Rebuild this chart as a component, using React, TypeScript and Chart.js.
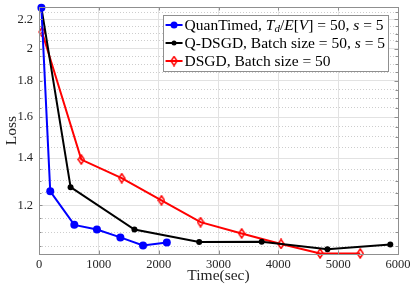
import React, { useEffect, useRef } from 'react';
import { Chart, registerables } from 'chart.js';

Chart.register(...registerables);

// ---------------- data ----------------
const seriesNames = [
  'QuanTimed, $T_d/E[V] = 50, s = 5$',
  'Q-DSGD, Batch size = 50, $s = 5$',
  'DSGD, Batch size = 50',
];
const seriesColors = ['#0000ff', '#000000', '#ff0000'];

const quanTimedTime = [40, 188, 590, 968, 1360, 1739, 2136];
const quanTimedLoss = [2.285, 1.256, 1.126, 1.109, 1.081, 1.053, 1.063];

const qdsgdTime = [40, 528, 1595, 2677, 3722, 4821, 5871];
const qdsgdLoss = [2.285, 1.273, 1.109, 1.065, 1.066, 1.04, 1.056];

const dsgdTime = [50, 707, 1382, 2047, 2700, 3387, 4045, 4698, 5369];
const dsgdLoss = [2.111, 1.393, 1.311, 1.22, 1.136, 1.095, 1.058, 1.026, 1.026];

const xTickValues = [0, 1000, 2000, 3000, 4000, 5000, 6000];
const xTickLabels = ['0', '1000', '2000', '3000', '4000', '5000', '6000'];
const yMajorValues = [1.2, 1.4, 1.6, 1.8, 2, 2.2];
const yTickLabels = ['1.2', '1.4', '1.6', '1.8', '2', '2.2'];
const yMinorValues = [
  1.05, 1.1, 1.15, 1.25, 1.3, 1.35, 1.45, 1.5, 1.55, 1.65, 1.7, 1.75, 1.85,
  1.9, 1.95, 2.05, 2.1, 2.15, 2.25,
];
const xRange = [0, 6000];
const yRange = [1.024, 2.29];

// ---------------- styling helpers ----------------
const FONT = '"Liberation Serif", "Times New Roman", serif';
const AXIS_COLOR = '#8f8f8f';
const TEXT_COLOR = '#262626';

function makeDiamond(color: string): HTMLCanvasElement {
  const c = document.createElement('canvas');
  c.width = 8;
  c.height = 11;
  const g = c.getContext('2d')!;
  g.strokeStyle = color;
  g.lineWidth = 1.5;
  g.beginPath();
  g.moveTo(4, 1);
  g.lineTo(7, 5.5);
  g.lineTo(4, 10);
  g.lineTo(1, 5.5);
  g.closePath();
  g.stroke();
  return c;
}

type Seg = { text: string; italic: boolean; sub: boolean };
function parseLabel(s: string): Seg[] {
  const segs: Seg[] = [];
  s.split('$').forEach((p, i) => {
    if (i % 2 === 0) {
      if (p) segs.push({ text: p, italic: false, sub: false });
      return;
    }
    for (let k = 0; k < p.length; k++) {
      const c = p[k];
      if (c === '_' && k + 1 < p.length) {
        const n = p[k + 1];
        segs.push({ text: n, italic: /[A-Za-z]/.test(n), sub: true });
        k++;
        continue;
      }
      segs.push({ text: c, italic: /[A-Za-z]/.test(c), sub: false });
    }
  });
  return segs;
}

const isMajor = (v: number) => yMajorValues.some((m) => Math.abs(m - v) < 1e-6);

export default function App() {
  const ref = useRef<HTMLCanvasElement | null>(null);

  useEffect(() => {
    if (!ref.current) return;
    const diamond = makeDiamond(seriesColors[2]);

    const toPts = (xs: number[], ys: number[]) => xs.map((x, i) => ({ x, y: ys[i] }));

    const legendSize = 15.5;
    const boxPlugin = {
      id: 'matlabBox',
      afterDraw(chart: any) {
        const ctx = chart.ctx as CanvasRenderingContext2D;
        const { left, right, top, bottom } = chart.chartArea;
        const xs = chart.scales.x;
        const ys = chart.scales.y;
        ctx.save();
        // box
        ctx.strokeStyle = AXIS_COLOR;
        ctx.lineWidth = 1;
        ctx.strokeRect(Math.round(left) + 0.5, Math.round(top) + 0.5, Math.round(right - left), Math.round(bottom - top));
        // ticks
        ctx.beginPath();
        xTickValues.forEach((v) => {
          const px = Math.round(xs.getPixelForValue(v)) + 0.5;
          ctx.moveTo(px, bottom);
          ctx.lineTo(px, bottom - 3.5);
          ctx.moveTo(px, top);
          ctx.lineTo(px, top + 3.5);
        });
        [...yMajorValues, ...yMinorValues].forEach((v) => {
          const py = Math.round(ys.getPixelForValue(v)) + 0.5;
          const len = isMajor(v) ? 3.5 : 2.5;
          ctx.moveTo(left, py);
          ctx.lineTo(left + len, py);
          ctx.moveTo(right, py);
          ctx.lineTo(right - len, py);
        });
        ctx.stroke();

        // legend
        const rows = seriesNames.map(parseLabel);
        const fontFor = (s: Seg) =>
          `${s.italic ? 'italic ' : ''}${s.sub ? Math.round(legendSize * 0.7) : legendSize}px ${FONT}`;
        const widths = rows.map((segs) =>
          segs.reduce((w, s) => {
            ctx.font = fontFor(s);
            return w + ctx.measureText(s.text).width;
          }, 0)
        );
        const maxW = Math.max(...widths);
        const boxRight = 388;
        const sampleW = 17;
        const boxLeft = boxRight - (3 + sampleW + 2 + maxW + 3);
        const boxTop = 15;
        const rowH = 18;
        const boxBottom = boxTop + rowH * rows.length + 2;
        ctx.fillStyle = '#ffffff';
        ctx.fillRect(Math.round(boxLeft) + 0.5, boxTop + 0.5, Math.round(boxRight - boxLeft), boxBottom - boxTop);
        ctx.strokeStyle = AXIS_COLOR;
        ctx.lineWidth = 1;
        ctx.strokeRect(Math.round(boxLeft) + 0.5, boxTop + 0.5, Math.round(boxRight - boxLeft), boxBottom - boxTop);

        rows.forEach((segs, i) => {
          const cy = boxTop + 10 + i * rowH;
          const sx = boxLeft + 3;
          ctx.strokeStyle = seriesColors[i];
          ctx.lineWidth = 2;
          ctx.beginPath();
          ctx.moveTo(sx, cy);
          ctx.lineTo(sx + sampleW, cy);
          ctx.stroke();
          const mx = sx + sampleW / 2;
          if (i === 2) {
            ctx.drawImage(diamond, mx - diamond.width / 2, cy - diamond.height / 2);
          } else {
            ctx.fillStyle = seriesColors[i];
            ctx.beginPath();
            ctx.arc(mx, cy, i === 0 ? 3.5 : 2.5, 0, Math.PI * 2);
            ctx.fill();
          }
          let tx = sx + sampleW + 2;
          ctx.fillStyle = '#000000';
          ctx.textBaseline = 'middle';
          ctx.textAlign = 'left';
          segs.forEach((s) => {
            ctx.font = fontFor(s);
            ctx.fillText(s.text, tx, cy + (s.sub ? 4 : 1));
            tx += ctx.measureText(s.text).width;
          });
        });
        ctx.restore();
      },
    };

    const chart = new Chart(ref.current, {
      type: 'line',
      data: {
        datasets: [
          {
            label: seriesNames[0].replace(/\$/g, ''),
            data: toPts(quanTimedTime, quanTimedLoss),
            borderColor: seriesColors[0],
            backgroundColor: seriesColors[0],
            borderWidth: 2,
            pointRadius: 4,
            pointStyle: 'circle',
            pointBorderWidth: 0,
            clip: false as any,
          },
          {
            label: seriesNames[1].replace(/\$/g, ''),
            data: toPts(qdsgdTime, qdsgdLoss),
            borderColor: seriesColors[1],
            backgroundColor: seriesColors[1],
            borderWidth: 2,
            pointRadius: 3,
            pointStyle: 'circle',
            pointBorderWidth: 0,
            clip: false as any,
          },
          {
            label: seriesNames[2],
            data: toPts(dsgdTime, dsgdLoss),
            borderColor: seriesColors[2],
            backgroundColor: 'rgba(0,0,0,0)',
            borderWidth: 2,
            pointRadius: 5,
            pointStyle: diamond as any,
            clip: false as any,
          },
        ],
      },
      options: {
        animation: false,
        responsive: true,
        maintainAspectRatio: false,
        layout: { padding: { top: 6, right: 13, left: 0, bottom: 0 } },
        plugins: { legend: { display: false }, tooltip: { enabled: false } },
        elements: { line: { tension: 0 } },
        scales: {
          x: {
            type: 'linear',
            min: xRange[0],
            max: xRange[1],
            afterBuildTicks: (s: any) => {
              s.ticks = xTickValues.map((v) => ({ value: v }));
            },
            ticks: {
              autoSkip: false,
              maxRotation: 0,
              padding: 3,
              color: TEXT_COLOR,
              font: { family: FONT, size: 12.5 },
              callback: (v: any) => {
                const i = xTickValues.indexOf(Number(v));
                return i >= 0 ? xTickLabels[i] : '';
              },
            },
            grid: { color: '#e2e2e2', drawTicks: false, lineWidth: 1 },
            border: { display: false },
            title: {
              display: true,
              text: 'Time(sec)',
              color: TEXT_COLOR,
              font: { family: FONT, size: 15.5 },
              padding: { top: 0, bottom: 0 },
            },
            afterFit: (s: any) => {
              s.height = 31;
              s.paddingLeft = 0;
              s.paddingRight = 0;
            },
          },
          y: {
            type: 'logarithmic',
            min: yRange[0],
            max: yRange[1],
            afterBuildTicks: (s: any) => {
              s.ticks = [...yMinorValues, ...yMajorValues]
                .sort((a, b) => a - b)
                .map((v) => ({ value: v, major: isMajor(v) }));
            },
            ticks: {
              autoSkip: false,
              padding: 6,
              color: TEXT_COLOR,
              font: { family: FONT, size: 12.5 },
              callback: (v: any) => {
                const i = yMajorValues.findIndex((m) => Math.abs(m - Number(v)) < 1e-6);
                return i >= 0 ? yTickLabels[i] : '';
              },
            },
            grid: {
              drawTicks: false,
              lineWidth: 1,
              color: (c: any) => (c.tick && isMajor(c.tick.value) ? '#e2e2e2' : '#cdcdcd'),
            },
            border: {
              display: false,
              dash: (c: any) => (c.tick && !isMajor(c.tick.value) ? [1, 2] : []),
            } as any,
            title: {
              display: true,
              text: 'Loss',
              color: TEXT_COLOR,
              font: { family: FONT, size: 15.5 },
              padding: { top: 3, bottom: 0 },
            },
            afterFit: (s: any) => {
              s.width = 39;
              s.paddingTop = 0;
              s.paddingBottom = 0;
            },
          },
        },
      } as any,
      plugins: [boxPlugin],
    });

    return () => chart.destroy();
  }, []);

  return (
    <div style={{ position: 'fixed', left: 0, top: 0, width: 411, height: 285, background: '#fff' }}>
      <canvas ref={ref} />
    </div>
  );
}
